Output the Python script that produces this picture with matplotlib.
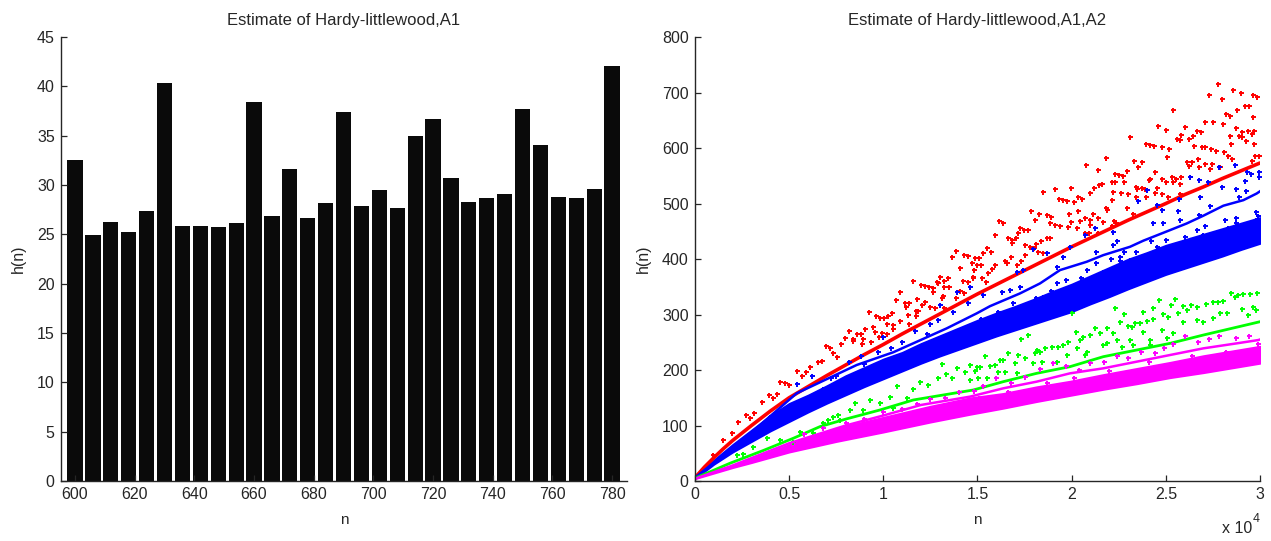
import numpy as np
import matplotlib
matplotlib.use("Agg")
import matplotlib.pyplot as plt

bar_n = [600,606,612,618,624,630,636,642,648,654,660,666,672,678,684,690,696,702,708,714,720,726,732,738,744,750,756,762,768,774,780]
bar_h = [32.5,24.9,26.3,25.2,27.4,40.3,25.8,25.8,25.7,26.1,38.4,26.9,31.6,26.7,28.2,37.4,27.9,29.5,27.7,35.0,36.7,30.7,28.3,28.7,29.1,37.7,34.1,28.8,28.7,29.6,42.1]

red_line_n = [0,500,1000,1500,2000,3000,4000,5000,6000,7000,8000,9000,10000,11000,12000,13000,14000,15000,16000,17000,18000,19000,20000,21000,22000,23000,24000,25000,26000,27000,28000,29000,30000]
red_line_h = [6,25,42,58,73,100,126,150,170,190,209,228,246,265,283,301,319,337,354,371,388,405,422,438,454,470,485,500,516,530,545,559,573]

red_points = [(27753,715),(27275,695),(27966,688),(28585,704),(29010,699),(29630,695),(29842,692),(25399,669),(29205,676),(29417,676),(28797,669),(28178,662),(28390,657),(29630,655),(27063,647),(27488,646),(28036,643),(24585,640),(24992,633),(26019,637),(28727,636),(26638,631),(26850,628),(25824,623),(29063,629),(29346,631),(29700,631),(29558,626),(23116,619),(25611,617),(25753,615),(26231,617),(26443,621),(28390,622),(28869,622),(29063,619),(29275,613),(28461,607),(29700,607),(23948,607),(24160,605),(24372,603),(24780,601),(25187,598),(26514,603),(26921,601),(27063,601),(27417,598),(27683,594),(28090,592),(28320,586),(28532,581),(21824,582),(25063,584),(29755,586),(29966,586),(20779,570),(23328,577),(23735,575),(23540,565),(26107,575),(26373,575),(26709,580),(27063,572),(27470,572),(26231,568),(26780,565),(27329,563),(27859,565),(29558,577),(21381,560),(22921,559),(22302,554),(22496,551),(22709,549),(24443,556),(24160,544),(24089,542),(25329,547),(25541,544),(25824,547),(26301,547),(24780,544),(24992,539),(25399,538),(25753,535),(22302,538),(22780,538),(22160,538),(21611,535),(21470,533),(21169,528),(20974,519),(19947,528),(19116,526),(18478,521),(23400,530),(23470,526),(23735,528),(23877,526),(24514,528),(24443,519),(24780,517),(25134,512),(25753,518),(22213,521),(22160,507),(22638,519),(22992,517),(23400,512),(23948,512),(19328,509),(19523,507),(19735,505),(20355,512),(20567,509),(20142,502),(17859,486),(18284,481),(18071,471),(18691,479),(18903,476),(18832,464),(19116,462),(19877,481),(20355,486),(19947,467),(20425,469),(20708,474),(21116,481),(20974,471),(21399,474),(21806,492),(21877,488),(22921,492),(23275,481),(20974,462),(21664,467),(22231,469),(22160,460),(22372,465),(19381,460),(19806,458),(20284,455),(20708,446),(20921,446),(21399,446),(16142,469),(16337,464),(15930,443),(16620,437),(16832,434),(17027,437),(17168,446),(17239,455),(17452,453),(17664,453),(18691,437),(18832,437),(18354,432),(18124,427),(17523,425),(17788,422),(18001,420),(16832,429),(18213,413),(18496,410),(17523,408),(15522,419),(15292,410),(15717,413),(14885,401),(15098,401),(14690,392),(14956,389),(15168,389),(16761,403),(16478,396),(16549,392),(17310,396),(17098,389),(15930,389),(15788,382),(15576,374),(14814,380),(14744,366),(15239,366),(15434,359),(13860,415),(13647,403),(14284,408),(14479,405),(14072,384),(14833,380),(14745,368),(11576,361),(11983,354),(12196,351),(12408,349),(12621,347),(13028,368),(13453,366),(12832,359),(13240,361),(12904,356),(13240,349),(13506,349),(12621,340),(10886,340),(10674,326),(11152,321),(11364,321),(11222,314),(11789,328),(12196,323),(12054,317),(12479,314),(12762,312),(13240,312),(13170,333),(13099,330),(13860,330),(14072,342),(14214,361),(14479,359),(14284,338),(9222,305),(9629,297),(9842,293),(10054,293),(10267,297),(10461,302),(11293,300),(11718,307),(11860,307),(11718,297),(10178,283),(10532,281),(10532,274),(10886,288),(11364,283),(9010,274),(9435,278),(8178,271),(8603,264),(8797,264),(8390,252),(7966,257),(7771,246),(6939,243),(7151,239),(8939,255),(9346,250),(9771,259),(9558,269),(9913,267),(8868,246),(10178,264),(2300,107),(2690,119),(3132,122),(3540,143),(3947,155),(4336,156),(4159,149),(2920,113),(1947,86),(1504,74),(973,47),(4513,179),(4780,176),(5009,173),(5398,198),(5664,189),(5894,197),(6106,206),(6549,215),(6726,216),(7345,230),(7522,224),(8407,255)]

blue_low_n = [0,500,1000,2000,3000,4000,5000,6000,7000,8000,9000,10000,11000,12000,13000,14000,15000,16000,17000,18000,19000,20000,21000,22000,23000,24000,25000,26000,27000,28000,29000,30000]
blue_low_h = [5,17,30,52,71,90,107,124,140,155,170,184,198,212,225,237,249,261,272,283,294,305,319,332,346,359,372,383,394,405,417,428]
blue_top_h = [5,22,38,66,92,118,140,155,172,190,205,220,232,248,262,276,290,303,315,328,342,355,370,385,400,412,425,435,445,455,465,475]

blue_second_n = [0,1000,2743,5398,8584,10531,13363,14956,15664,17257,18319,19381,20797,21682,23098,23806,25222,26107,26992,28054,29116,29824,30000]
blue_second_h = [6,33,80,158,209,232,275,302,315,338,356,380,395,407,422,433,452,464,478,496,506,518,522]

blue_points = [(27824,565),(28674,570),(29293,556),(29523,553),(29966,556),(29966,548),(29222,541),(28000,530),(28709,526),(29240,523),(26762,542),(26284,547),(27258,538),(28904,512),(26815,512),(25718,509),(23983,524),(23505,504),(24514,497),(24780,488),(25664,487),(25753,470),(24302,465),(24833,464),(27346,495),(26762,479),(28143,470),(28727,473),(29789,485),(29913,478),(29771,467),(29240,461),(28709,464),(21240,455),(22213,449),(20708,444),(21275,413),(22213,425),(22390,433),(19558,404),(19204,386),(19912,422),(17434,380),(17080,377),(16283,341),(16726,344),(15310,335),(17257,350),(17965,418),(18673,410),(26638,452),(26992,443),(27700,446),(28408,437),(29116,440),(29647,455),(25222,419),(25930,428),(24514,422),(23806,395),(23098,398),(22567,404),(22567,396),(21682,377),(20797,380),(19912,344),(19204,356),(18496,332),(17788,314),(17257,311),(29900,478),(29800,470),(28300,455),(27100,460),(26000,440),(25000,435),(24200,432),(23400,412),(22800,412),(22100,400),(21300,392),(20500,365),(19700,362),(18900,342),(18100,330),(16900,320),(16100,305),(15200,292),(14500,320),(13700,305),(12900,290),(12300,265),(11700,270),(11000,250),(10400,240),(9700,232),(9000,210),(8200,215),(7500,190),(6800,165),(6200,190),(5400,175),(4700,130),(4000,115),(13000,318),(13900,340),(14600,350),(12500,282),(10000,260),(8800,225),(7200,185)]

green_line_n = [0,1858,3628,5221,6637,8053,9823,11593,14779,16372,18142,19912,21682,23452,25222,26992,30000]
green_line_h = [5,32,55,77,98,112,128,146,164,179,194,206,224,236,248,263,287]

green_points = [(28479,339),(28850,335),(29081,337),(29470,337),(29860,338),(28674,331),(28054,324),(27789,323),(27524,322),(27134,319),(26337,317),(25895,315),(25257,317),(25488,328),(24638,326),(24302,312),(22302,312),(26638,314),(26107,308),(25664,302),(24868,301),(25134,295),(23806,305),(22779,301),(22567,286),(24337,291),(23983,289),(23629,284),(23364,284),(22974,280),(23187,278),(20000,302),(29647,314),(29789,308),(29028,310),(29380,299),(28231,303),(27877,302),(27523,293),(26992,287),(26638,290),(25930,287),(25399,266),(25045,257),(24780,272),(24160,254),(23806,269),(21859,275),(22213,266),(22390,254),(21240,276),(21505,266),(20974,263),(20620,260),(20213,268),(20443,254),(19824,250),(19558,245),(19293,242),(18939,241),(18585,239),(18142,236),(17700,263),(17310,256),(18054,230),(18319,233),(20797,233),(20708,227),(20266,239),(21682,245),(21859,248),(22655,242),(23098,254),(23275,245),(24160,245),(19735,227),(19204,215),(18408,215),(17965,212),(17523,221),(17169,227),(16638,230),(16372,218),(16195,218),(16992,212),(15399,225),(15930,209),(15664,207),(15133,206),(14868,198),(14602,209),(17080,194),(16461,197),(16107,197),(15487,185),(15044,185),(14602,182),(13098,211),(13894,203),(14336,197),(14956,205),(13310,192),(12920,185),(13628,185),(12389,173),(11947,179),(10708,171),(11593,165),(10354,152),(9292,146),(9823,140),(8495,140),(8230,128),(7611,119),(7345,116),(6814,104),(6283,87),(5575,89),(5221,71),(4513,74),(3805,77),(3097,62),(2566,49),(2212,47),(10531,131),(11239,149),(8938,128),(7080,110),(7699,110)]

mag_low_n = [0,1000,2000,3000,5000,7500,10000,12500,14602,16372,18142,19912,21682,23452,25222,26992,28054,30000]
mag_low_h = [4,14,24,33,52,71,88,106,120,131,143,154,165,175,186,195,201,212]
mag_top_h = [4,18,28,40,66,95,115,135,150,158,170,180,192,203,214,226,232,243]

mag_second_n = [0,2000,5000,8000,10000,12000,14602,16372,18142,19912,21682,23452,25222,26992,28763,29913,30000]
mag_second_h = [4,28,68,100,118,137,152,167,179,194,203,215,227,239,248,254,255]

mag_points = [(29400,262),(28700,258),(27800,262),(27300,256),(26700,250),(26000,262),(25400,246),(24900,240),(24400,230),(23700,232),(23000,222),(22400,226),(21700,214),(21000,212),(20400,200),(19700,208),(19000,212),(18300,202),(17500,188),(16800,176),(16000,186),(15300,172),(14800,162),(14000,160),(13300,150),(12500,148),(11800,138),(11000,130),(10000,124),(9000,112),(8000,104),(6800,96),(5800,84),(29900,247),(28200,232),(26400,226),(24100,214),(22000,198),(20100,186),(18700,176),(16600,160),(15100,150)]

TEXT = "#262626"
W, H = 1271, 541

plt.rcParams["font.family"] = ["Liberation Sans", "DejaVu Sans"]
plt.rcParams["font.size"] = 11
plt.rcParams["text.color"] = TEXT
plt.rcParams["axes.labelcolor"] = TEXT
plt.rcParams["xtick.color"] = TEXT
plt.rcParams["ytick.color"] = TEXT

fig = plt.figure(figsize=(W / 100, H / 100), dpi=100, facecolor="white")


def make_axes(x0, x1, y_top, y_bot):
    ax = fig.add_axes([x0 / W, 1 - y_bot / H, (x1 - x0) / W, (y_bot - y_top) / H])
    for side in ("top", "right"):
        ax.spines[side].set_visible(False)
    for side in ("left", "bottom"):
        ax.spines[side].set_linewidth(1.0)
        ax.spines[side].set_color(TEXT)
    ax.tick_params(direction="in", length=4, width=0.9, pad=4.5, labelsize=11.5)
    return ax


ax1 = make_axes(61, 627, 37, 481)
ax1.bar(bar_n, bar_h, width=5.1, color="#0a0a0a")
ax1.set_xlim(595.3, 785)
ax1.set_ylim(0, 45)
ax1.set_xticks(range(600, 781, 20))
ax1.set_yticks(range(0, 46, 5))
ax1.set_xlabel("n", fontsize=11, labelpad=8)
ax1.set_ylabel("h(n)", fontsize=11.5, labelpad=8)
ax1.set_title("Estimate of Hardy-littlewood,A1", fontsize=12, pad=9)

ax2 = make_axes(695, 1260, 37, 481)


def scatter_pts(ax, pts, color):
    arr = np.array(pts)
    ax.plot(arr[:, 0], arr[:, 1], ls="none", marker="+", ms=3.6, mew=1.4, color=color, clip_on=False)


RED, BLUE, GREEN, MAG = "#ff0000", "#0000ff", "#00ff00", "#ff00ff"
ax2.plot(red_line_n, red_line_h, color=RED, lw=2.6, solid_capstyle="round")
scatter_pts(ax2, red_points, RED)
ax2.fill_between(blue_low_n, blue_low_h, blue_top_h, color=BLUE, lw=1.2)
ax2.plot(blue_second_n, blue_second_h, color=BLUE, lw=1.8)
scatter_pts(ax2, blue_points, BLUE)
ax2.plot(green_line_n, green_line_h, color=GREEN, lw=2.0)
scatter_pts(ax2, green_points, GREEN)
ax2.fill_between(mag_low_n, mag_low_h, mag_top_h, color=MAG, lw=1.2)
ax2.plot(mag_second_n, mag_second_h, color=MAG, lw=1.8)
scatter_pts(ax2, mag_points, MAG)

ax2.set_xlim(0, 30000)
ax2.set_ylim(0, 800)
ax2.set_xticks(np.arange(0, 30001, 5000))
ax2.set_xticklabels(["0", "0.5", "1", "1.5", "2", "2.5", "3"])
ax2.set_yticks(range(0, 801, 100))
ax2.set_xlabel("n", fontsize=11, labelpad=8)
ax2.set_ylabel("h(n)", fontsize=11.5, labelpad=8)
ax2.set_title("Estimate of Hardy-littlewood,A1,A2", fontsize=12, pad=9)
ax2.annotate("x 10", xy=(1.0, 0), xycoords="axes fraction", xytext=(-27, -34), textcoords="offset points",
             ha="left", va="center", fontsize=11.5)
ax2.annotate("4", xy=(1.0, 0), xycoords="axes fraction", xytext=(-5, -27), textcoords="offset points",
             ha="left", va="center", fontsize=9)

fig.savefig("out.png", dpi=100, facecolor="white")
